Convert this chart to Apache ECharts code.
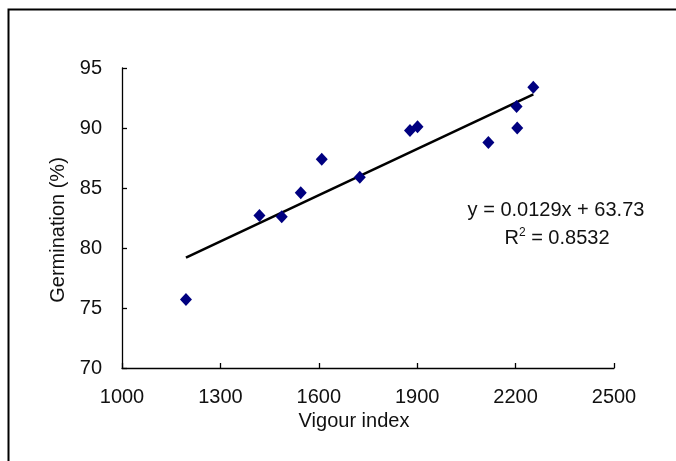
<!DOCTYPE html>
<html>
<head>
<meta charset="utf-8">
<script src="https://cdn.jsdelivr.net/npm/echarts@6/dist/echarts.min.js"></script>
<style>
html,body{margin:0;padding:0;background:#fff;}
#chart{width:676px;height:461px;}
</style>
</head>
<body>
<div id="chart"></div>
<script>
// Data
var vigourIndex = [1195, 1419, 1487, 1545, 1609, 1725, 1878, 1901, 2117, 2203, 2205, 2254];
var germination = [75.7, 82.7, 82.6, 84.6, 87.4, 85.9, 89.8, 90.1, 88.8, 91.8, 90.0, 93.4];
var trendX = [1195, 2254];
var trendY = [79.2, 92.8];
var xTicks = [1000, 1300, 1600, 1900, 2200, 2500];
var yTicks = [70, 75, 80, 85, 90, 95];
var equationText = 'y = 0.0129x + 63.73';
var r2Label = 'R';
var r2Value = ' = 0.8532';

var FONT = 'Liberation Sans, Arial, sans-serif';
var TXT = '#111';

var scatterData = vigourIndex.map(function (v, i) { return [v, germination[i]]; });
var trendData = trendX.map(function (v, i) { return [v, trendY[i]]; });

var chart = echarts.init(document.getElementById('chart'), null, { renderer: 'canvas' });
chart.setOption({
  backgroundColor: '#fff',
  animation: false,
  grid: { left: 122, top: 68, right: 62, bottom: 93, containLabel: false },
  xAxis: {
    type: 'value',
    min: xTicks[0], max: xTicks[xTicks.length - 1], interval: 300,
    name: 'Vigour index', nameLocation: 'middle', nameGap: 38,
    nameTextStyle: { fontFamily: FONT, fontSize: 20, color: TXT, padding: [0, 28, 0, 0] },
    axisLine: { show: true, lineStyle: { color: '#000', width: 1.3 } },
    axisTick: { show: true, inside: true, length: 5, lineStyle: { color: '#000', width: 1.3 } },
    axisLabel: { margin: 19, fontFamily: FONT, fontSize: 20, color: TXT, formatter: function (v) { return String(v); } },
    splitLine: { show: false }
  },
  yAxis: {
    type: 'value',
    min: yTicks[0], max: yTicks[yTicks.length - 1], interval: 5,
    name: 'Germination (%)', nameLocation: 'middle', nameGap: 50,
    nameTextStyle: { fontFamily: FONT, fontSize: 20, color: TXT, padding: [0, 24, 0, 0] },
    axisLine: { show: true, lineStyle: { color: '#000', width: 1.3 } },
    axisTick: { show: true, inside: true, length: 5, lineStyle: { color: '#000', width: 1.3 } },
    axisLabel: { margin: 20, fontFamily: FONT, fontSize: 20, color: TXT, formatter: function (v) { return String(v); } },
    splitLine: { show: false }
  },
  series: [
    {
      type: 'line',
      data: trendData,
      symbol: 'none',
      lineStyle: { color: '#000', width: 2.6 },
      z: 2
    },
    {
      type: 'scatter',
      data: scatterData,
      symbol: 'diamond',
      symbolSize: [12, 13],
      itemStyle: { color: '#000080', opacity: 1 },
      z: 3
    }
  ],
  graphic: [
    {
      type: 'rect',
      shape: { x: 8.5, y: 9.5, width: 720, height: 520 },
      style: { fill: null, stroke: '#000', lineWidth: 2 },
      silent: true
    },
    {
      type: 'text',
      x: 556, y: 210,
      style: {
        text: equationText,
        fontFamily: FONT, fontSize: 20, fill: TXT,
        align: 'center', verticalAlign: 'middle'
      }
    },
    {
      type: 'text',
      x: 557, y: 238,
      style: {
        text: '{n|' + r2Label + '}{s|2}{n|' + r2Value + '}',
        align: 'center', verticalAlign: 'middle',
        rich: {
          n: { fontFamily: FONT, fontSize: 20, fill: TXT, color: TXT },
          s: { fontFamily: FONT, fontSize: 12, fill: TXT, color: TXT, verticalAlign: 'top', padding: [0, 0, 10, 0] }
        }
      }
    }
  ]
});
</script>
</body>
</html>
